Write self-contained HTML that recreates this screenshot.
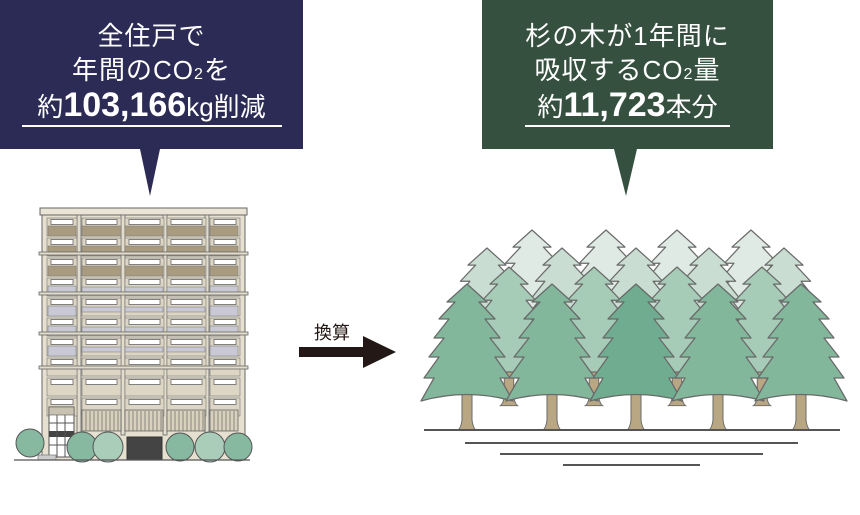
<!DOCTYPE html>
<html><head><meta charset="utf-8"><style>
html,body{margin:0;padding:0;background:#fff;}
body{width:860px;height:515px;position:relative;overflow:hidden;font-family:"Liberation Sans","Noto Sans CJK JP",sans-serif;}
.box{position:absolute;top:0;height:149px;color:#fff;text-align:center;}
.ln{position:absolute;left:0;right:0;white-space:nowrap;}
.l1,.l2{font-size:26px;line-height:30px;letter-spacing:1px;}
.l3{font-size:26px;line-height:36px;}
.l3 b{font-size:34px;font-weight:bold;}
.ul{position:absolute;height:1.5px;background:#fff;top:125px;}
</style></head><body>
<svg width="860" height="515" style="position:absolute;left:0;top:0">
<polygon points="0,0 303,0 303,149 160,149 150,196 140,149 0,149" fill="#2c2b55"/>
<polygon points="482,0 773,0 773,149 637,149 626,196 614,149 482,149" fill="#36503f"/>
<rect x="299" y="347" width="66" height="10" fill="#231815"/>
<polygon points="363,336 396,352 363,368" fill="#231815"/>
<text x="332" y="339" font-size="18" text-anchor="middle" fill="#231815" font-family="Liberation Sans,Noto Sans CJK JP,sans-serif">換算</text>
<defs>
<symbol id="fw" overflow="visible"><rect x="0" y="0" width="39" height="18" fill="#ddd6c4" stroke="#777" stroke-width=".6"/><rect x="4" y="1.5" width="31" height="5" fill="#fff" stroke="#666" stroke-width=".8"/></symbol>
<symbol id="fn" overflow="visible"><rect x="0" y="0" width="30" height="18" fill="#ddd6c4" stroke="#777" stroke-width=".6"/><rect x="4" y="1.5" width="22" height="5" fill="#fff" stroke="#666" stroke-width=".8"/></symbol>
<path id="tr" d="M0,0 L20,18 L12,18 L28,35 L18,35 L33,54 L23,54 L38,73 L28,73 L43,94 L33,94 L46,117 Q0,104 -46,117 L-33,94 L-43,94 L-28,73 L-38,73 L-23,54 L-33,54 L-18,35 L-28,35 L-12,18 L-20,18 Z" stroke="#6a6a6a" stroke-width="1.3" stroke-linejoin="round"/>
<path id="tk" d="M-5,108 L5,108 L5,136 Q6,144 9,146 L-9,146 Q-6,144 -5,136 Z" fill="#b9a783" stroke="#6a6a6a" stroke-width="1"/>
</defs>
<!-- building -->
<rect x="42" y="214" width="203" height="246" fill="#e6e0d0" stroke="#666" stroke-width="1"/>
<rect x="40" y="208" width="207" height="7" fill="#e9e4d5" stroke="#666" stroke-width="1"/>
<g fill="#e2dccb" stroke="#666" stroke-width=".8">
<rect x="77" y="215" width="4" height="220"/><rect x="121" y="215" width="4" height="220"/><rect x="163" y="215" width="4" height="220"/><rect x="205" y="215" width="4" height="220"/>
</g>
<g id="floors">
<use href="#fn" x="47" y="218"/><use href="#fw" x="82" y="218"/><use href="#fw" x="125" y="218"/><use href="#fw" x="167" y="218"/><use href="#fn" x="210" y="218"/>
</g>
<use href="#floors" y="20"/><use href="#floors" y="40"/><use href="#floors" y="60"/><use href="#floors" y="80"/><use href="#floors" y="100"/><use href="#floors" y="120"/><use href="#floors" y="140"/><use href="#floors" y="160"/><use href="#floors" y="180"/>
<g fill="#a99b80" stroke="#777" stroke-width=".5">
<rect x="48" y="226" width="28" height="10"/><rect x="82" y="226" width="39" height="10"/><rect x="125" y="226" width="38" height="10"/><rect x="167" y="226" width="38" height="10"/><rect x="210" y="226" width="28" height="10"/>
<rect x="48" y="246" width="28" height="10"/><rect x="82" y="246" width="39" height="10"/><rect x="125" y="246" width="38" height="10"/><rect x="167" y="246" width="38" height="10"/><rect x="210" y="246" width="28" height="10"/>
<rect x="48" y="266" width="28" height="10"/><rect x="82" y="266" width="39" height="10"/><rect x="125" y="266" width="38" height="10"/><rect x="167" y="266" width="38" height="10"/><rect x="210" y="266" width="28" height="10"/>
</g>
<g fill="#c9c9d6" stroke="#777" stroke-width=".5">
<rect x="48" y="286" width="28" height="10"/><rect x="82" y="287" width="39" height="5"/><rect x="125" y="287" width="38" height="5"/><rect x="167" y="287" width="38" height="5"/><rect x="210" y="286" width="28" height="10"/>
<rect x="48" y="306" width="28" height="10"/><rect x="82" y="307" width="39" height="5"/><rect x="125" y="307" width="38" height="5"/><rect x="167" y="307" width="38" height="5"/><rect x="210" y="306" width="28" height="10"/>
<rect x="48" y="326" width="28" height="10"/><rect x="82" y="327" width="39" height="5"/><rect x="125" y="327" width="38" height="5"/><rect x="167" y="327" width="38" height="5"/><rect x="210" y="326" width="28" height="10"/>
<rect x="48" y="346" width="28" height="10"/><rect x="82" y="347" width="39" height="5"/><rect x="125" y="347" width="38" height="5"/><rect x="167" y="347" width="38" height="5"/><rect x="210" y="346" width="28" height="10"/>
</g>
<g fill="#e2dccb" stroke="#666" stroke-width=".8">
<rect x="39" y="252" width="209" height="3"/><rect x="39" y="292" width="209" height="3"/><rect x="39" y="332" width="209" height="3"/><rect x="39" y="366" width="209" height="3"/>
</g>
<g fill="#d9d1bd" stroke="#555" stroke-width=".7">
<rect x="82" y="410" width="39" height="21"/><rect x="125" y="410" width="38" height="21"/><rect x="167" y="410" width="38" height="21"/><rect x="210" y="410" width="28" height="21"/>
</g>
<g stroke="#666" stroke-width=".7">
<path d="M86,411V431M90,411V431M94,411V431M98,411V431M102,411V431M106,411V431M110,411V431M114,411V431M118,411V431M129,411V431M133,411V431M137,411V431M141,411V431M145,411V431M149,411V431M153,411V431M157,411V431M161,411V431M171,411V431M175,411V431M179,411V431M183,411V431M187,411V431M191,411V431M195,411V431M199,411V431M203,411V431M214,411V431M218,411V431M222,411V431M226,411V431M230,411V431M234,411V431"/>
</g>
<rect x="49" y="407" width="25" height="50" fill="#fff" stroke="#555"/>
<rect x="49" y="407" width="25" height="8" fill="#c8c2b2" stroke="#555" stroke-width=".6"/>
<rect x="49" y="431" width="25" height="6" fill="#444"/>
<path d="M57,415V457M65,415V457M49,423H74M49,445H74" stroke="#555" stroke-width="1"/>
<rect x="127" y="437" width="35" height="23" fill="#444" stroke="#333"/>
<rect x="38" y="455" width="18" height="5" fill="#ccc" stroke="#666" stroke-width=".6"/>
<g stroke="#555" stroke-width="1">
<circle cx="30" cy="443" r="14" fill="#86b9a0"/>
<circle cx="82" cy="447" r="15" fill="#86b9a0"/>
<circle cx="108" cy="447" r="15" fill="#a9cdb8"/>
<circle cx="180" cy="447" r="14" fill="#86b9a0"/>
<circle cx="210" cy="447" r="15" fill="#a9cdb8"/>
<circle cx="238" cy="447" r="14" fill="#86b9a0"/>
</g>
<line x1="14" y1="460" x2="250" y2="460" stroke="#555" stroke-width="1.2"/>
<!-- forest -->
<g fill="#dfeae4">
<g transform="translate(532,230) scale(.95)"><use href="#tr"/></g>
<g transform="translate(606,230) scale(.95)"><use href="#tr"/></g>
<g transform="translate(677,230) scale(.95)"><use href="#tr"/></g>
<g transform="translate(751,230) scale(.95)"><use href="#tr"/></g>
</g>
<g fill="#c9ddd2">
<g transform="translate(487,248) scale(.95)"><use href="#tr"/></g>
<g transform="translate(562,248) scale(.95)"><use href="#tr"/></g>
<g transform="translate(636,248) scale(.95)"><use href="#tr"/></g>
<g transform="translate(709,248) scale(.95)"><use href="#tr"/></g>
<g transform="translate(784,248) scale(.95)"><use href="#tr"/></g>
</g>
<g fill="#a6cbb7">
<g transform="translate(509,267) scale(.95)"><use href="#tk"/><use href="#tr"/></g>
<g transform="translate(594,267) scale(.95)"><use href="#tk"/><use href="#tr"/></g>
<g transform="translate(677,267) scale(.95)"><use href="#tk"/><use href="#tr"/></g>
<g transform="translate(762,267) scale(.95)"><use href="#tk"/><use href="#tr"/></g>
</g>
<g fill="#82b79c">
<g transform="translate(467,284)"><use href="#tk"/><use href="#tr"/></g>
<g transform="translate(552,284)"><use href="#tk"/><use href="#tr"/></g>
<g transform="translate(636,284)"><use href="#tk" fill="#ab9770"/><use href="#tr" fill="#70ad90"/></g>
<g transform="translate(718,284)"><use href="#tk"/><use href="#tr"/></g>
<g transform="translate(801,284)"><use href="#tk"/><use href="#tr"/></g>
</g>
<g stroke="#555" stroke-width="2">
<line x1="424" y1="430" x2="840" y2="430"/>
<line x1="465" y1="443" x2="798" y2="443"/>
<line x1="500" y1="454" x2="763" y2="454"/>
<line x1="563" y1="465" x2="700" y2="465"/>
</g>
</svg>
<div class="box" style="left:0;width:303px">
<div class="ln l1" style="top:21px">全住戸で</div>
<div class="ln l2" style="top:55px">年間のCO<span style="font-size:16px">2</span>を</div>
<div class="ln l3" style="top:87px">約<b>103,166</b>kg削減</div>
<div class="ul" style="left:22px;width:260px"></div>
</div>
<div class="box" style="left:482px;width:291px">
<div class="ln l1" style="top:21px">杉の木が1年間に</div>
<div class="ln l2" style="top:55px">吸収するCO<span style="font-size:16px">2</span>量</div>
<div class="ln l3" style="top:87px">約<b>11,723</b>本分</div>
<div class="ul" style="left:43px;width:205px"></div>
</div>
</body></html>
